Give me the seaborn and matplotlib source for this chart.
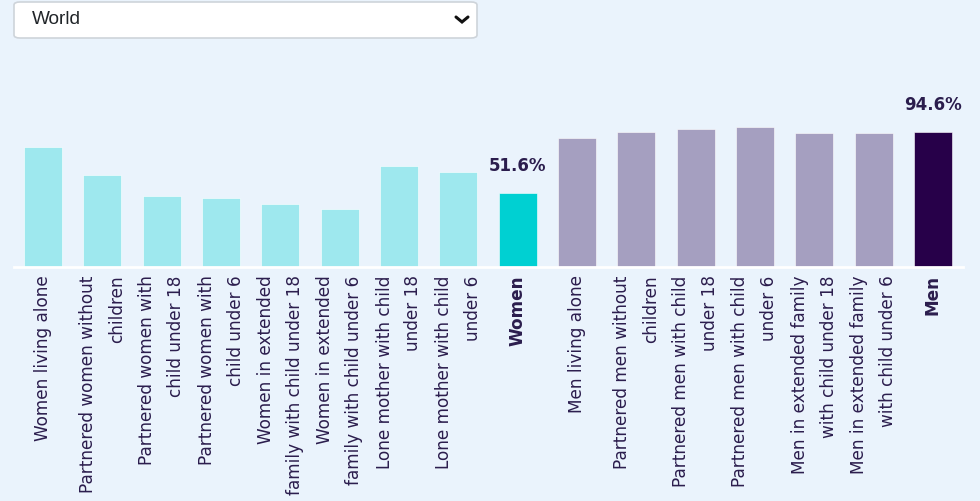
import matplotlib
matplotlib.use("Agg")
import matplotlib.pyplot as plt
import seaborn as sns
import pandas as pd
from matplotlib.patches import FancyBboxPatch
from matplotlib.lines import Line2D

# ---- data ----
categories = [
    "Women living alone",
    "Partnered women without\nchildren",
    "Partnered women with\nchild under 18",
    "Partnered women with\nchild under 6",
    "Women in extended\nfamily with child under 18",
    "Women in extended\nfamily with child under 6",
    "Lone mother with child\nunder 18",
    "Lone mother with child\nunder 6",
    "Women",
    "Men living alone",
    "Partnered men without\nchildren",
    "Partnered men with child\nunder 18",
    "Partnered men with child\nunder 6",
    "Men in extended family\nwith child under 18",
    "Men in extended family\nwith child under 6",
    "Men",
]
values = [83.6, 64.3, 49.5, 48.3, 43.8, 40.8, 70.7, 66.4, 51.6,
          90.4, 94.6, 96.7, 97.9, 93.7, 93.7, 94.6]
totals = ["Women", "Men"]
region = "World"

# ---- styling ----
BG = "#EAF3FC"
TEXT = "#2B1D4D"
bar_colors = (["#9EE8EE"] * 8 + ["#00D0D2"] + ["#A59FC0"] * 6 + ["#270049"])

df = pd.DataFrame({"cat": categories, "val": values})

sns.set_theme(style="white")
plt.rcParams["font.family"] = ["DejaVu Sans"]

W, H = 980, 501
fig = plt.figure(figsize=(W / 100, H / 100), dpi=100, facecolor=BG)

def fx(px):
    return px / W

def fy(py):
    return 1 - py / H

ax_left, ax_right = 13.5, 962.5
ax_top, ax_bottom = 95, 267
ax = fig.add_axes([fx(ax_left), fy(ax_bottom), fx(ax_right - ax_left),
                   (ax_bottom - ax_top) / H])
ax.set_facecolor(BG)

sns.barplot(data=df, x="cat", y="val", hue="cat", palette=bar_colors,
            legend=False, width=0.64, ax=ax, saturation=1,
            edgecolor="#FFFFFF", linewidth=0.4)

ax.set_ylim(0, 120.3)
ax.set_xlim(-0.5, len(categories) - 0.5)
ax.set_xlabel("")
ax.set_ylabel("")
ax.set_yticks([])
for s in ["top", "left", "right"]:
    ax.spines[s].set_visible(False)
ax.spines["bottom"].set_color("white")
ax.spines["bottom"].set_linewidth(2)

ax.set_xticks(range(len(categories)))
ax.set_xticklabels(categories, rotation=90, fontsize=12.2, color=TEXT,
                   linespacing=1.78, multialignment="right")
ax.tick_params(axis="x", length=0, pad=6)
for lbl in ax.get_xticklabels():
    if lbl.get_text() in totals:
        lbl.set_fontweight("bold")

# value labels for totals
for i, (c, v) in enumerate(zip(categories, values)):
    if c in totals:
        ax.annotate(f"{v:.1f}%", xy=(i, v), xytext=(0, 27),
                    textcoords="offset pixels", ha="center", va="center",
                    fontsize=12, fontweight="bold", color=TEXT)

# dropdown
box = FancyBboxPatch((fx(14), fy(38)), fx(463), (38 - 2) / H,
                     boxstyle="round,pad=0,rounding_size=0.006",
                     transform=fig.transFigure, facecolor="white",
                     edgecolor="#CED4DA", linewidth=1.2)
fig.patches.append(box)
fig.text(fx(32), fy(20), region, fontsize=13.7, color="#212529",
         ha="left", va="center", family="Liberation Sans")
fig.lines.append(Line2D([fx(456), fx(462), fx(468)], [fy(17), fy(22), fy(17)],
                        transform=fig.transFigure, color="#111111",
                        linewidth=2.2, solid_capstyle="round",
                        solid_joinstyle="miter"))

fig.savefig("out.png", dpi=100, facecolor=BG)
